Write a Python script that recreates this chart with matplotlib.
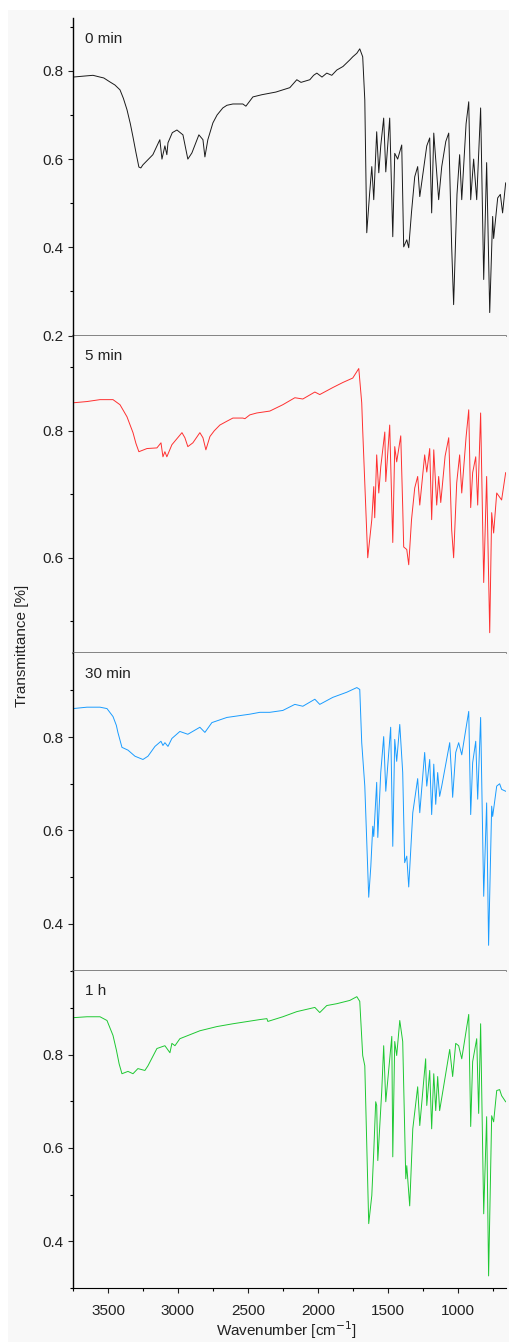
import matplotlib.pyplot as plt
from matplotlib.patches import Rectangle
from matplotlib.ticker import MultipleLocator

plt.rcParams['font.family'] = ['Liberation Sans', 'DejaVu Sans']

labels = ['0 min', '5 min', '30 min', '1 h']
colors = ['#1a1a1a', '#ff3030', '#1a9cff', '#1ec832']

# 0 min
wn_0 = [3750, 3680, 3607, 3557, 3530, 3486, 3450, 3414, 3390, 3364, 3340, 3321, 3300, 3279, 3265, 3250, 3179,
        3129, 3114, 3093, 3079, 3071, 3040, 3007, 2964, 2929, 2900, 2850, 2821, 2807, 2786, 2750, 2720, 2679,
        2650, 2607, 2536, 2514, 2464, 2400, 2300, 2250, 2200, 2150, 2120, 2057, 2030, 2007, 1970, 1936, 1900,
        1864, 1820, 1771, 1750, 1721, 1700, 1679, 1664, 1650, 1630, 1614, 1600, 1579, 1564, 1550, 1529, 1514,
        1486, 1464, 1450, 1429, 1400, 1386, 1364, 1350, 1330, 1307, 1286, 1271, 1221, 1200, 1186, 1171, 1150,
        1136, 1114, 1085, 1064, 1043, 1029, 1005, 986, 971, 940, 921, 907, 886, 864, 836, 814, 793, 771, 750,
        743, 714, 695, 679, 657]
t_0 = [0.786, 0.788, 0.790, 0.786, 0.784, 0.775, 0.768, 0.757, 0.738, 0.712, 0.680, 0.650, 0.615, 0.582, 0.580, 0.587, 0.610,
       0.644, 0.600, 0.630, 0.610, 0.637, 0.660, 0.666, 0.655, 0.600, 0.614, 0.655, 0.644, 0.605, 0.644, 0.682, 0.700, 0.716,
       0.722, 0.725, 0.725, 0.720, 0.741, 0.746, 0.752, 0.757, 0.762, 0.780, 0.774, 0.780, 0.790, 0.795, 0.786, 0.795, 0.790,
       0.802, 0.810, 0.825, 0.832, 0.840, 0.850, 0.832, 0.734, 0.433, 0.520, 0.583, 0.508, 0.662, 0.569, 0.630, 0.693, 0.571,
       0.693, 0.424, 0.613, 0.600, 0.632, 0.401, 0.417, 0.399, 0.480, 0.560, 0.583, 0.515, 0.630, 0.648, 0.478, 0.659, 0.569,
       0.508, 0.583, 0.640, 0.659, 0.401, 0.270, 0.520, 0.610, 0.508, 0.680, 0.730, 0.508, 0.600, 0.508, 0.716, 0.327, 0.592, 0.252, 0.470,
       0.420, 0.512, 0.520, 0.478, 0.546]

# 5 min
wn_5 = [3750, 3650, 3557, 3464, 3414, 3364, 3340, 3321, 3300, 3279, 3221, 3150, 3121, 3107, 3093, 3079, 3043,
        2971, 2950, 2929, 2893, 2843, 2821, 2800, 2771, 2740, 2700, 2650, 2607, 2536, 2521, 2486, 2436, 2343,
        2250, 2164, 2107, 2021, 1986, 1893, 1821, 1750, 1707, 1686, 1679, 1643, 1614, 1600, 1593, 1579, 1564,
        1550, 1521, 1514, 1486, 1464, 1450, 1436, 1407, 1393, 1386, 1364, 1350, 1330, 1307, 1286, 1271, 1236,
        1221, 1200, 1186, 1171, 1150, 1136, 1121, 1090, 1064, 1043, 1029, 1007, 986, 971, 940, 921, 907, 893,
        871, 857, 836, 814, 793, 771, 757, 743, 721, 686, 657]
t_5 = [0.844, 0.846, 0.849, 0.849, 0.841, 0.822, 0.808, 0.797, 0.780, 0.767, 0.772, 0.773, 0.781, 0.759, 0.767, 0.759, 0.778,
       0.797, 0.789, 0.775, 0.781, 0.797, 0.789, 0.770, 0.791, 0.800, 0.809, 0.815, 0.820, 0.820, 0.819, 0.825, 0.828, 0.831,
       0.841, 0.852, 0.850, 0.861, 0.857, 0.868, 0.876, 0.883, 0.898, 0.844, 0.801, 0.600, 0.660, 0.712, 0.663, 0.762, 0.702,
       0.743, 0.798, 0.720, 0.809, 0.624, 0.775, 0.751, 0.792, 0.680, 0.617, 0.613, 0.589, 0.660, 0.710, 0.728, 0.683, 0.762,
       0.735, 0.772, 0.660, 0.770, 0.683, 0.728, 0.687, 0.760, 0.789, 0.644, 0.600, 0.718, 0.762, 0.702, 0.790, 0.833, 0.679, 0.734,
       0.759, 0.683, 0.828, 0.561, 0.728, 0.482, 0.671, 0.639, 0.702, 0.691, 0.734]

# 30 min
wn_30 = [3750, 3650, 3557, 3507, 3464, 3440, 3429, 3400, 3357, 3307, 3250, 3214, 3164, 3121, 3107, 3093, 3071,
         3043, 2986, 2929, 2843, 2807, 2757, 2650, 2557, 2486, 2414, 2343, 2250, 2164, 2107, 2021, 1986,
         1893, 1793, 1721, 1700, 1686, 1664, 1636, 1621, 1607, 1600, 1579, 1571, 1550, 1529, 1514, 1479,
         1464, 1450, 1436, 1414, 1393, 1379, 1364, 1350, 1321, 1286, 1271, 1236, 1221, 1200, 1186, 1171,
         1157, 1143, 1129, 1114, 1057, 1043, 1036, 1014, 993, 971, 940, 921, 907, 893, 871, 857, 836,
         814, 793, 779, 757, 750, 721, 700, 686, 657]
t_30 = [0.861, 0.864, 0.864, 0.861, 0.844, 0.825, 0.810, 0.778, 0.772, 0.759, 0.752, 0.759, 0.780, 0.791, 0.782, 0.788, 0.780,
        0.797, 0.812, 0.806, 0.821, 0.810, 0.831, 0.842, 0.846, 0.849, 0.853, 0.853, 0.857, 0.870, 0.866, 0.881, 0.870,
        0.885, 0.896, 0.906, 0.902, 0.788, 0.695, 0.457, 0.523, 0.609, 0.587, 0.703, 0.585, 0.724, 0.801, 0.684, 0.821,
        0.566, 0.795, 0.748, 0.827, 0.724, 0.531, 0.545, 0.479, 0.638, 0.711, 0.638, 0.767, 0.695, 0.752, 0.634, 0.742,
        0.656, 0.724, 0.673, 0.695, 0.788, 0.716, 0.671, 0.767, 0.788, 0.762, 0.820, 0.855, 0.634, 0.745, 0.791, 0.667, 0.842,
        0.459, 0.659, 0.354, 0.652, 0.630, 0.695, 0.700, 0.688, 0.684]

# 1 h
wn_60 = [3750, 3650, 3557, 3507, 3464, 3440, 3420, 3400, 3357, 3321, 3286, 3236, 3214, 3150, 3093, 3057, 3043,
         3021, 2986, 2843, 2721, 2607, 2414, 2364, 2357, 2250, 2150, 2021, 1986, 1936, 1864, 1771, 1721,
         1700, 1679, 1664, 1636, 1614, 1600, 1586, 1579, 1571, 1543, 1529, 1514, 1471, 1464, 1450, 1436,
         1414, 1393, 1371, 1364, 1343, 1321, 1286, 1271, 1229, 1221, 1200, 1186, 1171, 1157, 1143, 1129,
         1057, 1036, 1014, 993, 971, 940, 921, 907, 893, 864, 850, 836, 814, 793, 779, 757, 743,
         721, 700, 686, 657]
t_60 = [0.879, 0.881, 0.881, 0.873, 0.841, 0.810, 0.780, 0.759, 0.764, 0.759, 0.770, 0.766, 0.776, 0.813, 0.819, 0.804, 0.824,
        0.819, 0.834, 0.851, 0.860, 0.866, 0.875, 0.877, 0.871, 0.881, 0.892, 0.901, 0.890, 0.905, 0.909, 0.916, 0.924,
        0.914, 0.798, 0.776, 0.438, 0.498, 0.592, 0.699, 0.691, 0.573, 0.721, 0.819, 0.699, 0.839, 0.581, 0.828, 0.798,
        0.873, 0.828, 0.534, 0.562, 0.476, 0.641, 0.731, 0.648, 0.791, 0.691, 0.766, 0.641, 0.759, 0.680, 0.753, 0.680,
        0.811, 0.753, 0.824, 0.819, 0.791, 0.850, 0.886, 0.646, 0.785, 0.834, 0.674, 0.866, 0.459, 0.667, 0.326, 0.669, 0.656,
        0.723, 0.725, 0.712, 0.699]

wns = [wn_0, wn_5, wn_30, wn_60]
ts = [t_0, t_5, t_30, t_60]
ylims = [(0.2, 0.92), (0.45, 0.95), (0.30, 0.98), (0.30, 0.98)]

bg = '#f8f8f8'
fig, axes = plt.subplots(4, 1, sharex=True, figsize=(5.09, 13.42), dpi=100)
fig.subplots_adjust(left=0.1434, right=0.994, top=0.9866, bottom=0.0402, hspace=0)
fig.patch.set_facecolor('white')
fig.patches.append(Rectangle((8 / 509, 0), 1, 1 - 10 / 1342, transform=fig.transFigure,
                             facecolor=bg, edgecolor='none', zorder=-10))

for i, ax in enumerate(axes):
    ax.set_facecolor(bg)
    ax.plot(wns[i], ts[i], color=colors[i], lw=0.7)
    ax.set_ylim(*ylims[i])
    ax.yaxis.set_major_locator(MultipleLocator(0.2))
    ax.yaxis.set_minor_locator(MultipleLocator(0.1))
    ax.tick_params(axis='y', which='major', direction='out', length=3.5, width=0.8, labelsize=11, colors='#222222')
    ax.tick_params(axis='y', which='minor', direction='out', length=2, width=0.8)
    ax.spines['top'].set_visible(False)
    ax.spines['right'].set_visible(False)
    ax.spines['left'].set_linewidth(1.0)
    if i < 3:
        ax.spines['bottom'].set_color('#707070')
        ax.spines['bottom'].set_linewidth(1.2)
        ax.tick_params(axis='x', which='both', bottom=False)
    ax.text(0.028, 0.935, labels[i], transform=ax.transAxes, fontsize=11, va='center', ha='left', color='#222222')

axes[-1].set_xlim(3750, 655)
axes[-1].xaxis.set_major_locator(MultipleLocator(500))
axes[-1].xaxis.set_minor_locator(MultipleLocator(250))
axes[-1].tick_params(axis='x', which='major', direction='out', length=3.5, width=0.8, labelsize=11, colors='#222222', pad=8)
axes[-1].tick_params(axis='x', which='minor', direction='out', length=2, width=0.8)

fig.text(0.043, 0.519, 'Transmittance [%]', rotation=90, fontsize=11, va='center', ha='center', color='#222222')
fig.text(0.563, 0.0085, 'Wavenumber [cm$^{-1}$]', fontsize=11, va='center', ha='center', color='#222222')

plt.savefig('out.png', dpi=100, facecolor='white')
